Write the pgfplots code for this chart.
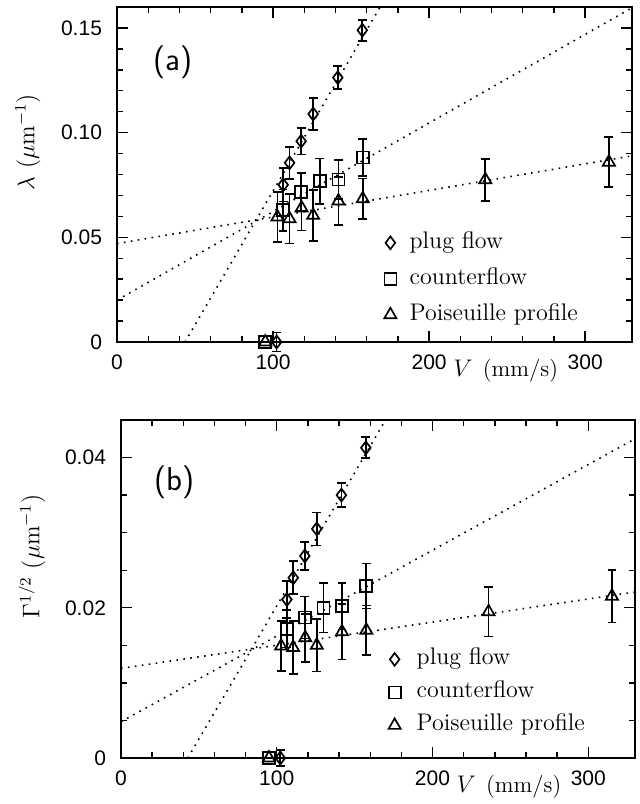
\documentclass[border=0pt]{standalone}
\usepackage{pgfplots}
\pgfplotsset{compat=1.18}
\usepackage{fontspec}
\newfontfamily\helv{Liberation Sans}

\pgfplotsset{
  myaxis/.style={
    scale only axis, clip=false,
    xmin=0, xmax=330,
    xtick={0,100,200,300},
    minor x tick num=4,
    scaled ticks=false,
    tick align=inside,
    major tick length=5.5pt, minor tick length=3pt,
    axis line style={line width=0.8pt},
    every tick/.style={line width=0.7pt, black},
    tick label style={font=\fontsize{10.5}{12}\selectfont\helv},
    /pgf/number format/assume math mode=true,
    xticklabel shift=3pt, yticklabel shift=4pt,
    xlabel={$V$\hspace{0.45em}(mm/s)},
    xlabel style={at={(axis description cs:0.755,-0.085)}, anchor=center, font=\fontsize{11.5}{14}\selectfont},
    ylabel style={at={(axis description cs:-0.173,0.597)}, anchor=center, font=\fontsize{12}{14}\selectfont},
    legend cell align=left,
    legend image code/.code={\draw[##1] plot coordinates {(0pt,0pt)};},
  },
  errb/.style={error bars/.cd, y dir=both, y explicit,
     error bar style={line width=0.85pt, solid},
     error mark options={rotate=90, mark size=2.2pt, line width=0.85pt}},
  fit/.style={forget plot, line width=0.8pt, dash pattern=on 0.8pt off 2.7pt},
}

\begin{document}
\begin{tikzpicture}
% ---------- panel (a)
\begin{axis}[myaxis,
  at={(58.5pt,-171pt)}, anchor=south west,
  width=257.5pt, height=167.5pt,
  ymin=0, ymax=0.16,
  ytick={0,0.05,0.10,0.15}, yticklabels={0,0.05,0.10,0.15},
  minor y tick num=4,
  ylabel={$\lambda\ (\mu\mathrm{m}^{-1})$},
  legend style={draw=none, fill=none, inner sep=0pt, outer sep=0pt,
    at={(axis cs:171.3,0.0524)}, anchor=north west,
    row sep=7.5pt, column sep=6.6pt, font=\fontsize{12}{14}\selectfont,
    nodes={inner sep=0pt, text height=8pt, text depth=2.5pt}},
]
\addplot[fit] coordinates {(43.6,0) (168.6,0.16)};
\addplot[fit] coordinates {(0,0.020) (330,0.1596)};
\addplot[fit] coordinates {(0,0.047) (330,0.0889)};

\addplot[only marks, mark=diamond, mark size=3.2pt, line width=0.85pt, errb]
 table[x=x,y=y,y error=e]{
x y e
102.3 0 0.0045
106.5 0.0751 0.0080
110.6 0.0856 0.0077
118.0 0.0959 0.0063
125.7 0.1089 0.0078
141.5 0.1263 0.0056
157.2 0.1489 0.0050
};
\addlegendentry{plug flow}
\addplot[only marks, mark=square, mark size=3pt, line width=0.85pt, errb]
 table[x=x,y=y,y error=e]{
x y e
95.0 0 0
106.4 0.0629 0.0100
118.0 0.0716 0.0090
130.0 0.0768 0.0109
141.9 0.0776 0.0094
157.5 0.0881 0.0088
};
\addlegendentry{counterflow}
\addplot[only marks, mark=triangle, mark size=3.5pt, line width=0.85pt, errb]
 table[x=x,y=y,y error=e]{
x y e
95.0 0 0
102.8 0.0597 0.0118
110.5 0.0589 0.0119
118.3 0.0640 0.0107
125.7 0.0605 0.0121
141.9 0.0673 0.0115
157.5 0.0684 0.0097
236.0 0.0775 0.0100
315.2 0.0859 0.0119
};
\addlegendentry{Poiseuille profile}
\node[font=\fontsize{16.5}{18}\selectfont\sffamily] at (axis description cs:0.109,0.836) {(a)};
\end{axis}

% ---------- panel (b)
\begin{axis}[myaxis,
  at={(60.5pt,-379pt)}, anchor=south west,
  width=257pt, height=169pt,
  ymin=0, ymax=0.045,
  ytick={0,0.02,0.04}, yticklabels={0,0.02,0.04},
  minor y tick num=3,
  ylabel={$\Gamma^{1/2}\ (\mu\mathrm{m}^{-1})$},
  legend style={draw=none, fill=none, inner sep=0pt, outer sep=0pt,
    at={(axis cs:171.8,0.01453)}, anchor=north west,
    row sep=6pt, column sep=8pt, font=\fontsize{12}{14}\selectfont,
    nodes={inner sep=0pt, text height=8pt, text depth=2.5pt}},
]
\addplot[fit] coordinates {(42.9,0) (169.8,0.045)};
\addplot[fit] coordinates {(0,0.00483) (330,0.0425)};
\addplot[fit] coordinates {(0,0.01193) (330,0.0221)};

\addplot[only marks, mark=diamond, mark size=3.2pt, line width=0.85pt, errb]
 table[x=x,y=y,y error=e]{
x y e
102.3 0 0.0011
106.5 0.0211 0.0025
110.6 0.0240 0.0022
118.0 0.0269 0.0019
125.7 0.0305 0.0022
141.5 0.0350 0.0016
157.2 0.0413 0.0014
};
\addlegendentry{plug flow}
\addplot[only marks, mark=square, mark size=3pt, line width=0.85pt, errb]
 table[x=x,y=y,y error=e]{
x y e
95.0 0 0
106.4 0.0172 0.0025
118.0 0.0187 0.0028
130.0 0.0200 0.0033
141.9 0.0202 0.0031
157.5 0.0229 0.0030
};
\addlegendentry{counterflow}
\addplot[only marks, mark=triangle, mark size=3.5pt, line width=0.85pt, errb]
 table[x=x,y=y,y error=e]{
x y e
95.0 0 0
102.8 0.0149 0.0033
110.5 0.0147 0.0035
118.3 0.0160 0.0032
125.7 0.0150 0.0035
141.9 0.0168 0.0037
157.5 0.0170 0.0033
236.0 0.01946 0.0033
315.2 0.02154 0.0035
};
\addlegendentry{Poiseuille profile}
\node[font=\fontsize{16.5}{18}\selectfont\sffamily] at (axis description cs:0.105,0.817) {(b)};
\end{axis}
\pgfresetboundingbox
\path[use as bounding box] (0,0) rectangle (320pt,-402pt);
\end{tikzpicture}
\end{document}
